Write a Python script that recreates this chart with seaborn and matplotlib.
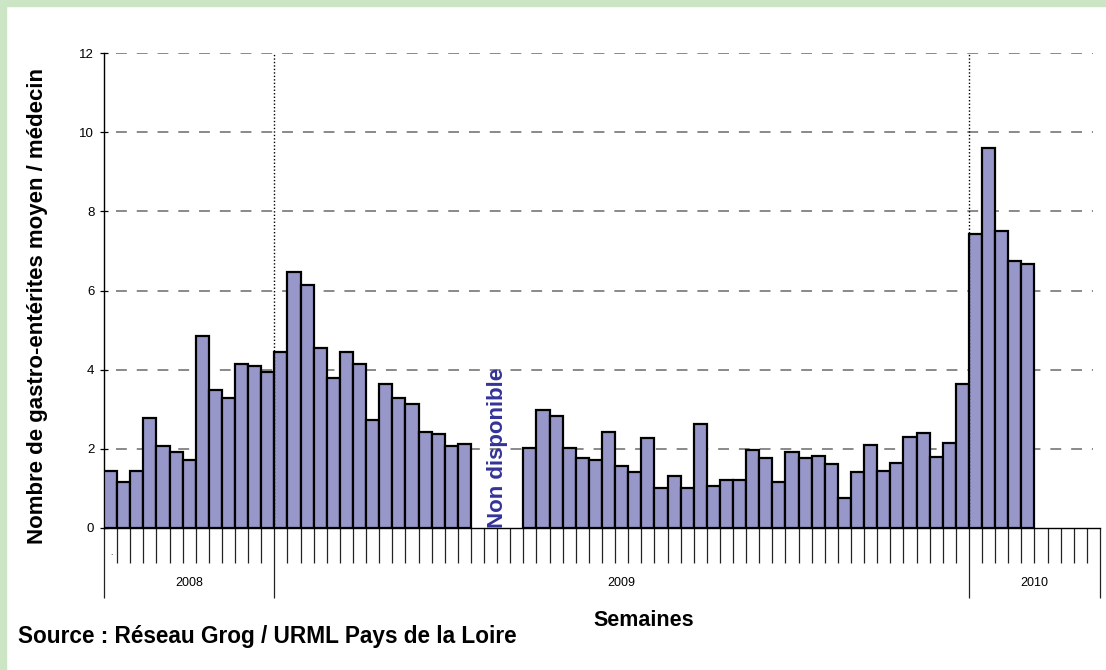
import numpy as np
import pandas as pd
import matplotlib
matplotlib.use('Agg')
import matplotlib.pyplot as plt
import seaborn as sns
from matplotlib.patches import Rectangle
from matplotlib.ticker import FixedLocator, NullFormatter

# weekly values, one list per year (None = no data)
weeks_2008 = [1.45, 1.16, 1.45, 2.77, 2.06, 1.91, 1.71, 4.85, 3.49, 3.28, 4.15, 4.1, 3.95]
weeks_2009 = [4.45, 6.46, 6.15, 4.55, 3.8, 4.45, 4.15, 2.73, 3.64, 3.28, 3.13, 2.42, 2.37, 2.06, 2.11,
              None, None, None, None,
              2.01, 2.98, 2.83, 2.01, 1.76, 1.71, 2.43, 1.56, 1.41, 2.27,
              1.01, 1.31, 1.01, 2.62, 1.06, 1.21, 1.21, 1.97, 1.76, 1.16,
              1.92, 1.76, 1.81, 1.62, 0.75, 1.41, 2.1, 1.45, 1.65, 2.3,
              2.41, 1.8, 2.15, 3.63]
weeks_2010 = [7.42, 9.59, 7.51, 6.75, 6.66, None, None, None, None, None]
years = ['2008', '2009', '2010']
missing_label = 'Non disponible'

all_vals = weeks_2008 + weeks_2009 + weeks_2010
df = pd.DataFrame({'slot': np.arange(len(all_vals)) + 0.5, 'val': all_vals}).dropna()
n_slots = len(all_vals)
year_bounds = np.cumsum([0, len(weeks_2008), len(weeks_2009), len(weeks_2010)])

sns.set_style('white')
plt.rcParams['font.family'] = ['Liberation Sans', 'DejaVu Sans']
plt.rcParams['text.color'] = 'black'
plt.rcParams['xtick.color'] = 'black'
plt.rcParams['ytick.color'] = 'black'

W, H = 1106, 670
fig = plt.figure(figsize=(W / 100, H / 100), dpi=100, facecolor='white')
green = '#cce5c4'
fig.patches.append(Rectangle((0, 0), 6 / W, 1, transform=fig.transFigure, color=green, zorder=0))
fig.patches.append(Rectangle((0, 1 - 6 / H), 1, 6 / H, transform=fig.transFigure, color=green, zorder=0))

ax = fig.add_axes([104 / W, (H - 528) / H, (1100 - 104) / W, (528 - 53) / H])
ax.set_facecolor('white')

sns.barplot(data=df, x='slot', y='val', native_scale=True, width=1, color='#9797c9',
            saturation=1, edgecolor='black', linewidth=1.6, errorbar=None, ax=ax, zorder=3)

ax.set_xlim(0, n_slots)
ax.set_ylim(0, 12)
ax.set_yticks(range(0, 13, 2))
for yv in range(2, 13, 2):
    ax.axhline(yv, xmin=0.012, xmax=0.993, color='#808080', lw=1.3, ls=(0, (6, 5.5)), zorder=1)

# year separators (dotted, inside plot)
ax.vlines(year_bounds[1:3], 0, 12, colors='black', linestyles=(0, (1, 1.5)), lw=1, zorder=4)

# x ticks: short ones between weeks, long ones at year boundaries
ax.xaxis.set_major_locator(FixedLocator(year_bounds))
ax.xaxis.set_minor_locator(FixedLocator([b for b in range(1, n_slots) if b not in year_bounds]))
ax.xaxis.set_major_formatter(NullFormatter())
ax.tick_params(axis='x', which='major', direction='out', length=50.4, width=0.9, color='#222222', bottom=True)
ax.tick_params(axis='x', which='minor', direction='out', length=25.2, width=0.9, color='#222222', bottom=True)
ax.tick_params(axis='y', direction='inout', length=6, width=0.9, labelsize=9.5, pad=4, left=True)
ax.set_xlabel('')
ax.set_ylabel('')

for s in ['top', 'right']:
    ax.spines[s].set_visible(False)
for s in ['left', 'bottom']:
    ax.spines[s].set_color('black')
    ax.spines[s].set_linewidth(1)

for i, yr in enumerate(years):
    ax.text((year_bounds[i] + year_bounds[i + 1]) / 2, -1.4, yr, ha='center', va='center',
            fontsize=9, clip_on=False)
ax.text(0.6, -0.65, '.', ha='center', va='center', fontsize=6, clip_on=False)

ax.text(30, 0, missing_label, rotation=90, ha='center', va='bottom', fontsize=16,
        fontweight='bold', color='#333399', zorder=5)

fig.text(38 / W, 1 - 306 / H, 'Nombre de gastro-entérites moyen / médecin', rotation=90,
         ha='center', va='center', fontsize=16, fontweight='bold')
fig.text(644 / W, 1 - 620 / H, 'Semaines', ha='center', va='center', fontsize=15.5, fontweight='bold')
fig.text(18 / W, 1 - 637 / H, 'Source : Réseau Grog / URML Pays de la Loire', ha='left', va='center',
         fontsize=16.3, fontweight='bold')

fig.savefig('out.png', dpi=100, facecolor=fig.get_facecolor())
